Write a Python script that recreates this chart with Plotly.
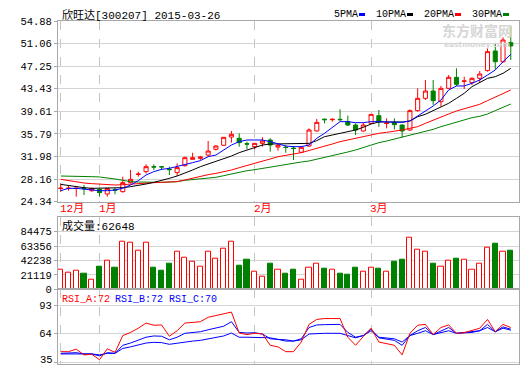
import plotly.graph_objects as go

# ---------------- data ----------------
dates = (["2014-12-25", "2014-12-26", "2014-12-29", "2014-12-30", "2014-12-31"] +
         ["2015-01-%02d" % d for d in [5, 6, 7, 8, 9, 12, 13, 14, 15, 16, 19, 20, 21, 22, 23, 26, 27, 28, 29, 30]] +
         ["2015-02-%02d" % d for d in [2, 3, 4, 5, 6, 9, 10, 11, 12, 13, 16, 17, 25, 26, 27]] +
         ["2015-03-%02d" % d for d in [2, 3, 4, 5, 6, 9, 10, 11, 12, 13, 16, 17, 18, 19, 20, 23, 24, 25, 26]])

opens = [26.58, 26.58, 26.58, 26.62, 26.20, 26.43, 25.64, 26.35, 26.04, 27.56,
         28.95, 29.42, 30.25, 30.26, 29.85, 29.25, 30.43, 31.50, 31.67, 32.23,
         33.19, 33.87, 35.27, 35.05, 34.15, 33.64, 34.20, 34.77, 33.58, 33.55,
         33.40, 32.70, 33.75, 36.29, 38.30, 38.20, 38.26, 37.87, 37.30, 36.29,
         37.58, 38.88, 37.55, 37.70, 37.30, 36.46, 39.73, 41.81, 43.05, 41.25,
         43.50, 45.36, 44.70, 44.46, 45.19, 46.49, 49.81, 48.00, 51.22]
highs = [27.44, 27.16, 26.66, 27.16, 26.70, 26.50, 26.62, 26.70, 28.57, 29.70,
         29.40, 30.66, 30.66, 30.28, 30.26, 30.83, 31.95, 32.62, 32.10, 34.60,
         33.90, 35.22, 36.29, 35.90, 34.49, 34.20, 35.22, 35.05, 34.10, 33.92,
         33.75, 33.75, 36.74, 38.32, 38.37, 38.43, 39.95, 38.88, 37.58, 37.70,
         39.10, 39.84, 38.43, 38.43, 37.41, 39.95, 43.50, 44.91, 44.91, 43.90,
         45.75, 46.88, 45.47, 45.36, 46.43, 50.26, 51.10, 52.12, 54.04]
lows = [26.04, 26.20, 25.20, 25.47, 26.00, 25.20, 25.20, 25.60, 25.87, 27.44,
        28.57, 29.10, 29.70, 29.70, 28.85, 28.68, 30.26, 31.50, 31.40, 31.95,
        33.00, 33.75, 34.32, 33.64, 33.19, 33.19, 33.64, 32.80, 32.96, 32.62,
        31.39, 32.62, 33.64, 36.18, 37.58, 37.87, 38.00, 37.13, 35.60, 36.18,
        37.47, 37.00, 36.74, 36.57, 35.22, 36.29, 39.56, 41.53, 40.70, 40.40,
        43.39, 43.90, 43.39, 44.07, 44.46, 46.32, 46.71, 47.84, 48.29]
closes = [26.62, 26.62, 26.62, 26.55, 26.60, 25.87, 26.60, 26.28, 27.56, 28.12,
          29.00, 30.26, 30.20, 30.22, 29.76, 30.10, 31.78, 31.78, 31.90, 32.90,
          33.75, 35.22, 35.73, 34.32, 34.07, 34.20, 34.60, 33.92, 33.87, 33.50,
          33.32, 33.53, 36.46, 37.75, 38.20, 38.26, 38.20, 37.30, 36.46, 37.30,
          39.10, 37.87, 37.60, 37.36, 36.29, 39.73, 41.81, 43.05, 41.42, 43.50,
          45.36, 44.18, 44.74, 45.19, 45.92, 49.70, 48.00, 51.67, 50.66]

ma5 = [26.20, 26.60, 26.60, 26.43, 26.32, 26.20, 26.20, 26.32, 26.60, 27.16,
       27.90, 28.85, 29.42, 29.81, 29.98, 30.26, 30.54, 30.94, 31.28, 31.95,
       32.23, 33.08, 33.92, 34.49, 34.77, 34.77, 34.77, 34.49, 34.09, 33.75,
       33.64, 33.64, 33.92, 35.05, 35.90, 36.91, 37.87, 37.87, 37.70, 37.70,
       37.87, 37.87, 37.87, 37.87, 37.75, 37.98, 38.82, 39.73, 40.51, 41.53,
       43.22, 43.90, 43.90, 44.35, 44.91, 45.75, 46.60, 48.00, 49.25]
ma10 = [27.27, 27.05, 26.88, 26.71, 26.60, 26.60, 26.60, 26.60, 26.71, 26.88,
        27.05, 27.33, 27.61, 27.90, 28.29, 28.68, 29.13, 29.70, 30.26, 30.71,
        31.11, 31.67, 32.06, 32.63, 33.08, 33.47, 33.92, 34.09, 34.09, 34.09,
        34.09, 34.09, 34.20, 34.66, 35.33, 35.61, 35.90, 36.18, 36.46, 36.91,
        37.47, 37.81, 37.81, 37.81, 37.81, 37.98, 38.71, 39.11, 39.73, 40.29,
        40.97, 41.81, 42.66, 43.78, 44.46, 45.19, 45.47, 46.04, 46.88]
ma20 = [28.12, 27.90, 27.67, 27.50, 27.39, 27.28, 27.22, 27.16, 27.22, 27.33,
        27.44, 27.50, 27.56, 27.61, 27.67, 27.73, 28.01, 28.35, 28.68, 28.91,
        29.13, 29.36, 29.70, 30.09, 30.49, 30.82, 31.16, 31.56, 31.95, 32.23,
        32.40, 32.63, 32.97, 33.36, 33.75, 34.09, 34.49, 34.77, 35.11, 35.44,
        35.73, 35.90, 36.06, 36.23, 36.46, 36.74, 37.02, 37.59, 38.15, 38.71,
        39.16, 39.67, 40.01, 40.35, 40.80, 41.42, 41.98, 42.66, 43.22]
ma30 = [28.68, 28.68, 28.63, 28.63, 28.57, 28.52, 28.40, 28.18, 27.95, 27.73,
        27.67, 27.61, 27.61, 27.61, 27.67, 27.73, 27.95, 28.07, 28.12, 28.23,
        28.46, 28.74, 29.02, 29.36, 29.58, 29.75, 29.98, 30.15, 30.32, 30.66,
        30.88, 31.05, 31.22, 31.50, 31.90, 32.12, 32.40, 32.74, 33.08, 33.53,
        33.92, 34.32, 34.60, 34.94, 35.27, 35.61, 35.90, 36.18, 36.57, 37.02,
        37.42, 37.87, 38.15, 38.54, 38.77, 39.16, 39.73, 40.29, 40.85]

volumes = [28300, 23900, 26800, 22400, 14700, 32700, 42500, 31200, 70400, 67900,
           57200, 68900, 31200, 26800, 37100, 55700, 46900, 40000, 33700, 55700,
           45500, 60100, 70400, 34200, 43000, 25400, 18000, 37100, 28300, 22400,
           28300, 14700, 31200, 37100, 29800, 28300, 22400, 21000, 31200, 25400,
           31200, 29800, 25400, 40000, 43000, 75200, 58700, 54700, 37100, 32700,
           41500, 44400, 43000, 28300, 37100, 60600, 66900, 54700, 56200]

rsi_a = [45.5, 45.5, 48.1, 42.2, 42.9, 37.3, 48.4, 44.8, 61.9, 65.1,
         69.4, 74.6, 72.4, 72.7, 61.2, 66.8, 74.6, 75.0, 76.0, 80.5,
         82.5, 84.2, 85.8, 64.5, 62.9, 64.2, 63.5, 52.0, 50.4, 45.5,
         45.5, 55.3, 73.3, 78.3, 79.2, 79.2, 79.2, 60.2, 52.0, 60.9,
         69.4, 55.3, 53.7, 52.0, 42.2, 64.2, 72.4, 73.3, 62.9, 70.1,
         72.7, 64.2, 64.8, 67.4, 69.4, 78.3, 65.8, 73.3, 70.1]
rsi_b = [43.8, 43.8, 44.5, 43.2, 43.2, 41.2, 44.5, 43.8, 52.0, 54.3,
         57.6, 60.2, 61.5, 61.2, 57.6, 60.2, 64.2, 64.8, 65.8, 67.8,
         69.4, 71.4, 76.0, 65.1, 64.5, 64.8, 63.5, 58.6, 58.0, 57.6,
         56.3, 58.6, 70.1, 72.7, 73.0, 73.3, 73.3, 65.1, 60.2, 61.9,
         68.4, 59.6, 58.3, 57.0, 52.0, 61.9, 66.8, 70.1, 62.9, 66.8,
         70.1, 64.2, 64.5, 65.1, 66.8, 73.3, 65.8, 70.7, 68.4]
rsi_c = [43.2, 43.2, 43.8, 43.2, 43.2, 42.2, 43.8, 43.8, 48.8, 50.4,
         52.7, 54.3, 55.0, 54.7, 53.0, 54.3, 55.6, 56.3, 57.0, 58.3,
         59.6, 61.5, 64.5, 60.2, 60.2, 60.2, 60.2, 59.6, 58.0, 56.3,
         56.3, 57.6, 63.5, 64.2, 64.2, 64.2, 64.2, 61.9, 59.6, 61.9,
         66.8, 60.2, 59.6, 58.6, 55.3, 61.9, 64.2, 66.8, 62.9, 65.1,
         66.8, 64.2, 65.1, 66.1, 66.8, 70.1, 65.8, 69.4, 67.4]

price_ticks = [24.34, 28.16, 31.98, 35.79, 39.61, 43.43, 47.25, 51.06, 54.88]
vol_ticks = [0, 21119, 42238, 63356, 84475]
rsi_ticks = [35, 64, 93]
month_starts = ["2014-12-25", "2015-01-05", "2015-02-02", "2015-03-02"]
month_labels = ["12月", "1月", "2月", "3月"]
title_text = "欣旺达[300207] 2015-03-26"
vol_label = "成交量:62648"
rsi_labels = ["RSI_A:72", "RSI_B:72", "RSI_C:70"]
ma_names = ["5PMA", "10PMA", "20PMA", "30PMA"]

# ---------------- style ----------------
RED = "#ff0000"
GREEN = "#008000"
BLUE = "#0000ff"
BLACK = "#000000"
GRID = "#d4d4d4"
FRAME = "#a8a8a8"
FONT = "Liberation Mono, Noto Sans CJK SC, monospace"
TICKFONT = dict(family=FONT, size=10.5, color="#000000")

W, H = 520, 365
L, R, T, B = 58, 519, 21, 364


def px(x):
    return (x - L) / (R - L)


def py(y):
    return (B - y) / (B - T)


fig = go.Figure()

# moving averages
for vals, col in [(ma30, GREEN), (ma20, RED), (ma10, BLACK), (ma5, BLUE)]:
    fig.add_trace(go.Scatter(x=dates, y=vals, mode="lines",
                             line=dict(color=col, width=1),
                             xaxis="x", yaxis="y", hoverinfo="skip"))

fig.add_trace(go.Candlestick(
    x=dates, open=opens, high=highs, low=lows, close=closes,
    increasing=dict(line=dict(color=RED, width=1), fillcolor="#ffffff"),
    decreasing=dict(line=dict(color=GREEN, width=1), fillcolor=GREEN),
    whiskerwidth=0, xaxis="x", yaxis="y"))

up = [c >= o for o, c in zip(opens, closes)]
fig.add_trace(go.Bar(
    x=dates, y=volumes, width=0.66,
    marker=dict(color=["#ffffff" if u else GREEN for u in up],
                line=dict(color=[RED if u else GREEN for u in up], width=1)),
    xaxis="x2", yaxis="y2"))

for vals, col in [(rsi_c, BLUE), (rsi_b, BLUE), (rsi_a, RED)]:
    fig.add_trace(go.Scatter(x=dates, y=vals, mode="lines",
                             line=dict(color=col, width=1),
                             xaxis="x3", yaxis="y3", hoverinfo="skip"))

xcommon = dict(type="category", range=[-0.35, 59.06], tickvals=month_starts,
               showticklabels=False, ticks="", showgrid=True, gridcolor="#c4c4c4",
               griddash="dash", gridwidth=1, showline=True, linecolor=FRAME,
               linewidth=1, mirror=True, zeroline=False, fixedrange=True)
ycommon = dict(showgrid=True, gridcolor=GRID, gridwidth=1, showline=True,
               linecolor=FRAME, linewidth=1, mirror=True, zeroline=False,
               ticks="outside", ticklen=3, tickcolor=FRAME,
               tickfont=TICKFONT, automargin=False)

# RSI scale: 93 at y=305, 35 at y=362 (pixels)
rsi_pp = (362 - 305) / (93 - 35)
rsi_lo = 35 - (B - 362) / rsi_pp
rsi_hi = 93 + (305 - 289.3) / rsi_pp

fig.update_layout(
    width=W, height=H,
    margin=dict(l=L, r=W - R, t=T, b=H - B),
    paper_bgcolor="#ffffff", plot_bgcolor="#ffffff",
    showlegend=False, bargap=0, boxgap=0.25,
    xaxis=dict(xcommon, anchor="y", domain=[0, 1], rangeslider=dict(visible=False)),
    xaxis2=dict(xcommon, anchor="y2", domain=[0, 1], matches="x"),
    xaxis3=dict(xcommon, anchor="y3", domain=[0, 1], matches="x"),
    yaxis=dict(ycommon, domain=[py(201.7), 1.0], range=[24.34, 54.88],
               tickvals=price_ticks, ticktext=["%.2f" % v for v in price_ticks]),
    yaxis2=dict(ycommon, domain=[py(289.3), py(216.7)], range=[0, 106500],
                tickvals=vol_ticks, ticktext=[str(v) for v in vol_ticks]),
    yaxis3=dict(ycommon, domain=[0, py(289.3)], range=[rsi_lo, rsi_hi],
                tickvals=rsi_ticks,
                ticktext=["" if v == rsi_ticks[0] else str(v) for v in rsi_ticks]),
)

ann = []
ann.append(dict(text=title_text, x=px(60), y=py(14.5), xref="paper", yref="paper",
                xanchor="left", yanchor="middle", showarrow=False,
                font=dict(family=FONT, size=11, color="#000000")))
# bottom RSI tick label, lifted slightly so it stays inside the page
ann.append(dict(text=str(rsi_ticks[0]), x=px(54.5), y=py(359.5), xref="paper", yref="paper",
                xanchor="right", yanchor="middle", showarrow=False, font=TICKFONT))
leg_x = [332, 374, 422, 470]
sw_x = [359, 407, 455, 503]
shapes = []
for name, lx, sx, col in zip(ma_names, leg_x, sw_x, [BLUE, BLACK, RED, GREEN]):
    ann.append(dict(text=name, x=px(lx), y=py(14.5), xref="paper", yref="paper",
                    xanchor="left", yanchor="middle", showarrow=False,
                    font=dict(family=FONT, size=10, color="#000000")))
    shapes.append(dict(type="rect", xref="paper", yref="paper",
                       x0=px(sx), x1=px(sx + 6), y0=py(16), y1=py(13),
                       fillcolor=col, line=dict(width=0)))
for d, lab in zip(month_starts, month_labels):
    ann.append(dict(text=lab, x=d, xref="x", y=py(208.5), yref="paper",
                    xanchor="left", yanchor="middle", xshift=-3, showarrow=False,
                    font=dict(family=FONT, size=11, color=RED)))
ann.append(dict(text=vol_label, x=px(60), y=py(226), xref="paper", yref="paper",
                xanchor="left", yanchor="middle", showarrow=False,
                font=dict(family=FONT, size=11, color="#000000")))
for lab, lx, col in zip(rsi_labels, [60, 113, 167], [RED, BLUE, BLUE]):
    ann.append(dict(text=lab, x=px(lx), y=py(299.5), xref="paper", yref="paper",
                    xanchor="left", yanchor="middle", showarrow=False,
                    font=dict(family=FONT, size=10, color=col)))
# watermark
ann.append(dict(text="<b>东方财富网</b>", x=px(440), y=py(30), xref="paper", yref="paper",
                xanchor="left", yanchor="middle", showarrow=False,
                font=dict(family="Noto Sans CJK SC", size=14, color="#d6d6d6")))
ann.append(dict(text="<b>eastmoney.com</b>", x=px(442), y=py(44.5), xref="paper", yref="paper",
                xanchor="left", yanchor="middle", showarrow=False,
                font=dict(family="DejaVu Sans", size=7.5, color="#d6d6d6")))

fig.update_layout(annotations=ann, shapes=shapes)
fig.write_html("out.html", config={"displayModeBar": False},
               post_script="document.body.style.margin='0';document.body.style.padding='0';")
